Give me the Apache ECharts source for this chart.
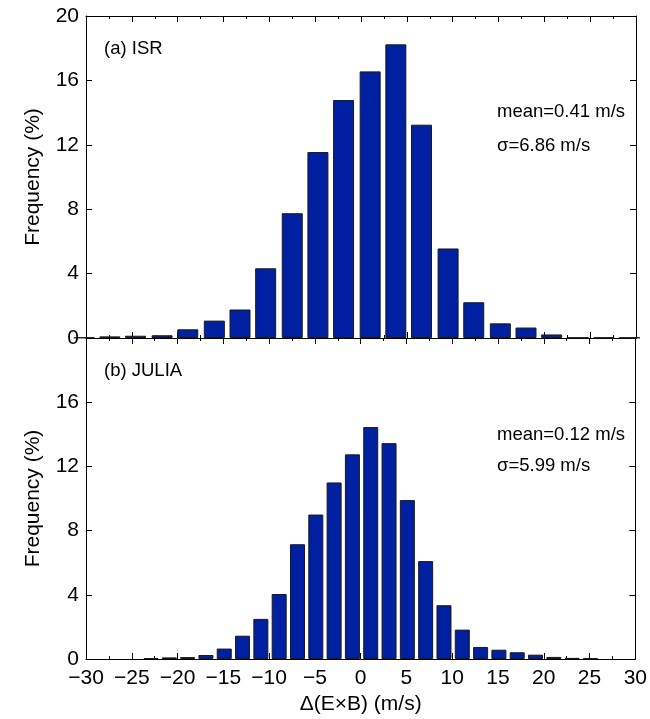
<!DOCTYPE html>
<html>
<head>
<meta charset="utf-8">
<script src="https://cdn.jsdelivr.net/npm/echarts@6/dist/echarts.min.js"></script>
<style>
html,body{margin:0;padding:0;background:#fff;}
#chart{width:650px;height:719px;}
</style>
</head>
<body>
<div id="chart"></div>
<script>
// ---- data ----
const isrCenters = [-30.2, -27.4, -24.6, -21.7, -18.9, -16.0, -13.2, -10.4, -7.5, -4.7, -1.9, 1.0, 3.8, 6.6, 9.5, 12.3, 15.2, 18.0, 20.8, 23.7, 26.5, 29.3];
const isrFreq    = [0.03, 0.10, 0.14, 0.17, 0.54, 1.08, 1.77, 4.33, 7.75, 11.55, 14.78, 16.56, 18.24, 13.25, 5.56, 2.22, 0.91, 0.65, 0.22, 0.03, 0.03, 0.03];

const juliaCenters = [-22.9, -20.9, -18.9, -16.9, -14.9, -12.9, -10.9, -8.9, -6.9, -4.9, -2.9, -0.9, 1.1, 3.1, 5.1, 7.1, 9.1, 11.1, 13.1, 15.1, 17.1, 19.1, 21.1, 23.1, 25.1];
const juliaFreq    = [0.05, 0.10, 0.12, 0.25, 0.65, 1.45, 2.50, 4.05, 7.15, 9.00, 11.00, 12.75, 14.45, 13.45, 9.90, 6.10, 3.35, 1.83, 0.75, 0.58, 0.42, 0.27, 0.13, 0.07, 0.04];

const xTickValues = [-30, -25, -20, -15, -10, -5, 0, 5, 10, 15, 20, 25, 30];
const yTickValues = [0, 4, 8, 12, 16, 20];

const panelLabels = ['(a) ISR', '(b) JULIA'];
const meanLabels  = ['mean=0.41 m/s', 'mean=0.12 m/s'];
const sigmaLabels = ['\u03c3=6.86 m/s', '\u03c3=5.99 m/s'];

const xAxisTitle = '\u0394(E\u00d7B) (m/s)';
const yAxisTitle = 'Frequency (%)';

// ---- chart ----
const FONT = "'Liberation Sans', Arial, Helvetica, sans-serif";
const minus = v => String(v).replace('-', '\u2212');

const chart = echarts.init(document.getElementById('chart'), null, {renderer: 'canvas'});

function xAx(gridIndex, position, showLabels) {
  return {
    type: 'value', gridIndex, position,
    min: xTickValues[0], max: xTickValues[xTickValues.length - 1], interval: 5,
    axisLine: {show: true, onZero: false, lineStyle: {color: '#000', width: 1}},
    axisTick: {show: true, inside: true, length: 6, lineStyle: {color: '#000', width: 1}},
    minorTick: {show: true, splitNumber: 2, length: 3, lineStyle: {color: '#000', width: 1}},
    axisLabel: {show: showLabels, color: '#000', fontSize: 21, fontFamily: FONT, margin: 9, formatter: minus},
    splitLine: {show: false},
    name: showLabels ? xAxisTitle : '',
    nameLocation: 'middle', nameGap: 35,
    nameTextStyle: {color: '#000', fontSize: 21, fontFamily: FONT}
  };
}
function yAx(gridIndex, position, showLabels, hideTop) {
  return {
    type: 'value', gridIndex, position,
    min: yTickValues[0], max: yTickValues[yTickValues.length - 1], interval: 4,
    axisLine: {show: true, onZero: false, lineStyle: {color: '#000', width: 1}},
    axisTick: {show: true, inside: true, length: 6, lineStyle: {color: '#000', width: 1}},
    axisLabel: {show: showLabels, color: '#000', fontSize: 21, fontFamily: FONT, margin: 7,
      formatter: v => (hideTop && v === yTickValues[yTickValues.length - 1]) ? '' : String(v)},
    splitLine: {show: false},
    name: showLabels ? yAxisTitle : '',
    nameLocation: 'middle', nameGap: 42, nameRotate: 90,
    nameTextStyle: {color: '#000', fontSize: 21, fontFamily: FONT}
  };
}

const barStyle = {color: '#0020A2', borderColor: '#1a1a1a', borderWidth: 1};

function txt(left, top, text, size) {
  return {type: 'text', left, top, style: {text, fill: '#000', font: size + 'px ' + FONT}};
}

chart.setOption({
  animation: false,
  backgroundColor: '#fff',
  grid: [
    {left: 86, right: 14, top: 16, height: 322},
    {left: 86, right: 14, top: 338, height: 321}
  ],
  xAxis: [xAx(0, 'bottom', false), xAx(0, 'top', false), xAx(1, 'bottom', true), xAx(1, 'top', false)],
  yAxis: [yAx(0, 'left', true, false), yAx(0, 'right', false, false), yAx(1, 'left', true, true), yAx(1, 'right', false, false)],
  series: [
    {type: 'bar', xAxisIndex: 0, yAxisIndex: 0, barWidth: 21, clip: true,
     data: isrCenters.map((c, i) => [c, isrFreq[i]]), itemStyle: barStyle},
    {type: 'bar', xAxisIndex: 2, yAxisIndex: 2, barWidth: 15, clip: true,
     data: juliaCenters.map((c, i) => [c, juliaFreq[i]]), itemStyle: barStyle}
  ],
  graphic: [
    txt(104, 39, panelLabels[0], 18.5),
    txt(497, 102, meanLabels[0], 18.5),
    txt(497, 136, sigmaLabels[0], 18.5),
    txt(104, 361, panelLabels[1], 18.5),
    txt(497, 425, meanLabels[1], 18.5),
    txt(497, 456, sigmaLabels[1], 18.5)
  ]
});
</script>
</body>
</html>
